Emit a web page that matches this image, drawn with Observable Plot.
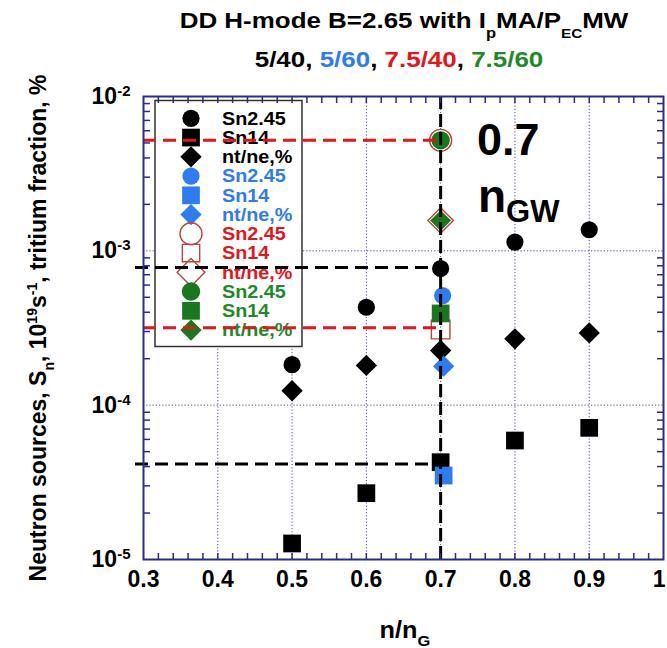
<!DOCTYPE html>
<html><head><meta charset="utf-8">
<script src="https://cdn.jsdelivr.net/npm/d3@7"></script>
<script src="https://cdn.jsdelivr.net/npm/@observablehq/plot@0.6"></script>
<style>
html,body{margin:0;padding:0;background:#fff;}
#chart{width:667px;height:648px;overflow:hidden;}
</style></head><body><div id="chart"></div>
<script>
// ---------- data ----------
const nRatio = [0.5, 0.6, 0.7, 0.8, 0.9];
const blackSn245 = [1.83e-4, 4.31e-4, 7.68e-4, 1.14e-3, 1.37e-3];
const blackSn14  = [1.27e-5, 2.69e-5, 4.27e-5, 5.9e-5, 7.13e-5];
const blackNtNe  = [1.24e-4, 1.81e-4, 2.26e-4, 2.69e-4, 2.94e-4];
const nRatioSingle = [0.7];
const blueSn245 = [5.13e-4], blueSn14 = [3.5e-5], blueNtNe = [1.79e-4];
const redSn245 = [5.2e-3], redSn14 = [3.09e-4], redNtNe = [1.57e-3];
const greenSn245 = [5.2e-3], greenSn14 = [3.93e-4], greenNtNe = [1.57e-3];
const redRefLevels = [5.2e-3, 3.18e-4];
const blackRefLevels = [7.8e-4, 4.16e-5];
const refRatio = [0.7];
const refStart = 0.3;
const xTickValues = [0.3, 0.4, 0.5, 0.6, 0.7, 0.8, 0.9, 1];
const xTickLabels = ["0.3", "0.4", "0.5", "0.6", "0.7", "0.8", "0.9", "1"];
const xGridValues = [0.4, 0.5, 0.6, 0.7, 0.8, 0.9];
const yTickValues = [1e-5, 1e-4, 1e-3, 1e-2];
const yTickExponents = ["-5", "-4", "-3", "-2"];
const yGridValues = [1e-4, 1e-3];
const legendLabels = ["Sn2.45", "Sn14", "nt/ne,%"];
const seriesNames = ["5/40", "5/60", "7.5/40", "7.5/60"];

// ---------- styles ----------
const navy = "#2b2b8c", gridColor = "#4b4ba6";
const cBlack = "#000", cBlue = "#2f7cf0", cRed = "#e3161b", cRedOpen = "#b9473d", cGreen = "#17791b";
const seriesText = [cBlack, cBlue, cRed, "#1e8a2a"];
const FONT = "'Liberation Sans', Arial, Helvetica, sans-serif";

const rows = (xs, ys) => ys.map((y, i) => ({x: xs[i], y}));
const xMinor = d3.range(0.32, 0.999, 0.02);
const yMinor = [];
for (let e = -5; e < -2; e++) for (let m = 2; m <= 9; m++) yMinor.push(m * Math.pow(10, e));

const dot = (data, symbol, r, o) => Plot.dot(data, {x: "x", y: "y", symbol, r, ...o});
const tickOnly = (axis, anchor, ticks, size) =>
  axis({anchor, ticks, tickSize: size, tickFormat: () => "", stroke: navy, strokeWidth: 1.5, label: null, ariaLabel: "minor-ticks"});

const plot = Plot.plot({
  width: 667, height: 648,
  marginLeft: 143, marginRight: 4, marginTop: 96, marginBottom: 89,
  x: {domain: [0.3, 1]},
  y: {type: "log", domain: [1e-5, 1e-2]},
  style: {fontFamily: FONT, fontWeight: "bold", background: "#fff", color: "#000", overflow: "visible"},
  marks: [
    Plot.ruleX(xGridValues, {stroke: gridColor, strokeWidth: 1, strokeDasharray: "1.2,2"}),
    Plot.ruleY(yGridValues, {stroke: gridColor, strokeWidth: 1, strokeDasharray: "1.2,2"}),
    // 5/40 black
    dot(rows(nRatio, blackSn245), "circle", 8.6, {fill: cBlack}),
    dot(rows(nRatio, blackSn14), "square", 10, {fill: cBlack}),
    dot(rows(nRatio, blackNtNe), "diamond2", 9.6, {fill: cBlack}),
    // 5/60 blue
    dot(rows(nRatioSingle, blueSn245), "circle", 8.6, {fill: cBlue, dx: 2}),
    dot(rows(nRatioSingle, blueSn14), "square", 10, {fill: cBlue, dx: 3}),
    dot(rows(nRatioSingle, blueNtNe), "diamond2", 9.6, {fill: cBlue, dx: 3}),
    // 7.5/40 red open
    dot(rows(nRatioSingle, redSn245), "circle", 11, {fill: "none", stroke: cRedOpen, strokeWidth: 1.4}),
    dot(rows(nRatioSingle, redSn14), "square", 10.5, {fill: "none", stroke: cRedOpen, strokeWidth: 1.4}),
    dot(rows(nRatioSingle, redNtNe), "diamond2", 11.5, {fill: "none", stroke: cRedOpen, strokeWidth: 1.4}),
    // 7.5/60 green
    dot(rows(nRatioSingle, greenSn245), "circle", 9.2, {fill: cGreen}),
    dot(rows(nRatioSingle, greenSn14), "square", 10, {fill: cGreen}),
    dot(rows(nRatioSingle, greenNtNe), "diamond2", 9.4, {fill: cGreen}),
    // reference dashed lines
    Plot.ruleY(redRefLevels, {x1: refStart, x2: refRatio[0], stroke: cRed, strokeWidth: 3, strokeDasharray: "13,7"}),
    Plot.ruleY(blackRefLevels, {x1: refStart, x2: refRatio[0], stroke: cBlack, strokeWidth: 3, strokeDasharray: "13,7", insetLeft: -8}),
    Plot.ruleX(refRatio, {stroke: cBlack, strokeWidth: 3, strokeDasharray: "13,5"}),
    // inward tick marks
    tickOnly(Plot.axisX, "bottom", xMinor, -6),
    tickOnly(Plot.axisX, "top", xMinor, -6),
    tickOnly(Plot.axisY, "left", yMinor, -7),
    tickOnly(Plot.axisY, "right", yMinor, -7),
    // tick labels
    Plot.axisX({anchor: "bottom", ticks: xTickValues, tickSize: 0, tickPadding: 11, fontSize: 23,
      tickFormat: d => xTickLabels[xTickValues.indexOf(d)], label: null}),
    Plot.axisY({anchor: "left", ticks: yTickValues, tickSize: 0, tickPadding: 13, fontSize: 23,
      tickFormat: d => "10" + yTickExponents[yTickValues.indexOf(d)], label: null}),
    Plot.frame({stroke: navy, strokeWidth: 2})
  ]
});
document.getElementById("chart").append(plot);

const svg = d3.select(plot);

// remove empty label texts of the tick-only axes
svg.selectAll("text").filter(function() { return this.textContent === ""; }).remove();

// keep the last x label ("1") inside the picture
svg.selectAll('g[aria-label="x-axis tick label"] text').each(function() {
  if (this.textContent === xTickLabels[xTickLabels.length - 1]) {
    d3.select(this).attr("text-anchor", "end").attr("dx", 2);
  }
});

// superscript exponents on y tick labels
svg.selectAll('g[aria-label="y-axis tick label"] text').each(function() {
  const s = this.textContent;
  if (!s.startsWith("10")) return;
  const exp = s.slice(2);
  const t = d3.select(this);
  t.text("");
  t.append("tspan").text("10");
  t.append("tspan").attr("font-size", 15).attr("dy", -8).text(exp);
});

function rich(parent, segs, attrs) {
  const t = parent.append("text").attr("font-family", FONT).attr("font-weight", "bold").attr("text-anchor", "start");
  for (const k in attrs) t.attr(k, attrs[k]);
  let cur = 0;
  for (const s of segs) {
    const ts = t.append("tspan").text(s.t);
    if (s.size) ts.attr("font-size", s.size);
    const sh = s.shift || 0;
    if (sh !== cur) { ts.attr("dy", sh - cur); cur = sh; }
    if (s.fill) ts.attr("fill", s.fill);
  }
  return t;
}

// ---------- legend (under the dashed lines, over the grid) ----------
const firstDot = plot.querySelector('g[aria-label="dot"]');
const legend = d3.select(plot.insertBefore(document.createElementNS("http://www.w3.org/2000/svg", "g"), firstDot));
legend.append("rect").attr("x", 155).attr("y", 100.5).attr("width", 147).attr("height", 246)
  .attr("fill", "#fff").attr("stroke", "#333").attr("stroke-width", 1.5);
const legendStyles = [
  {fill: cBlack, stroke: "none", rs: [8.6, 10, 9.6]},
  {fill: cBlue, stroke: "none", rs: [8.6, 10, 9.6]},
  {fill: "none", stroke: cRedOpen, rs: [11, 9.8, 12.5]},
  {fill: cGreen, stroke: "none", rs: [9.2, 10, 9.6]}
];
const symbolTypes = [d3.symbolCircle, d3.symbolSquare, d3.symbolDiamond2];
let row = 0;
seriesNames.forEach((name, si) => {
  legendLabels.forEach((lab, li) => {
    const cy = 118.3 + row * 19.25;
    const st = legendStyles[si];
    const r = st.rs[li];
    legend.append("path")
      .attr("d", d3.symbol(symbolTypes[li], Math.PI * r * r)())
      .attr("transform", `translate(191,${cy})`)
      .attr("fill", st.fill).attr("stroke", st.stroke).attr("stroke-width", 1.4);
    legend.append("text").attr("transform", `translate(222,${cy + 6.3}) scale(1.1,1)`)
      .attr("text-anchor", "start")
      .attr("font-family", FONT).attr("font-weight", "bold").attr("font-size", 18)
      .attr("fill", seriesText[si]).text(lab);
    row++;
  });
});

// ---------- annotations ----------
rich(svg, [{t: "0.7"}], {transform: "translate(477,155)", "font-size": 45, fill: "#000"});
rich(svg, [{t: "n"}, {t: "GW", size: 31, shift: 10}], {transform: "translate(478,212)", "font-size": 46, fill: "#000"});

// ---------- titles ----------
rich(svg, [
  {t: "DD H-mode B=2.65 with I"}, {t: "p", size: 14, shift: 10}, {t: "MA/P", shift: 0},
  {t: "EC", size: 13, shift: 10}, {t: "MW", shift: 0}
], {transform: "translate(404,28) scale(1.18,1)", "text-anchor": "middle", "font-size": 22, fill: "#000"});

const subSegs = [];
seriesNames.forEach((n, i) => {
  subSegs.push({t: n, fill: seriesText[i]});
  if (i < seriesNames.length - 1) subSegs.push({t: ", ", fill: "#000"});
});
rich(svg, subSegs, {transform: "translate(399,67) scale(1.18,1)", "text-anchor": "middle", "font-size": 22});

// axis titles
rich(svg, [
  {t: "Neutron sources, S"}, {t: "n", size: 14, shift: 8}, {t: ", 10", shift: 0},
  {t: "19", size: 14, shift: -9}, {t: "s", shift: 0}, {t: "-1", size: 14, shift: -9},
  {t: ", tritium fraction, %", shift: 0}
], {transform: "translate(46,328) rotate(-90)", "text-anchor": "middle", "font-size": 23, fill: "#000"});

rich(svg, [{t: "n/n"}, {t: "G", size: 15, shift: 8}],
  {transform: "translate(405,638) scale(1.1,1)", "text-anchor": "middle", "font-size": 23, fill: "#000"});
</script>
</body></html>
